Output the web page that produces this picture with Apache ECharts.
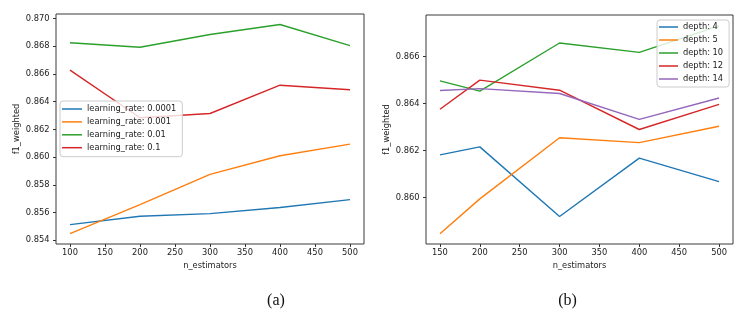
<!DOCTYPE html>
<html>
<head>
<meta charset="utf-8">
<script src="https://cdn.jsdelivr.net/npm/echarts@6/dist/echarts.min.js"></script>
<style>
html,body{margin:0;padding:0;background:#fff;}
#c{width:746px;height:313px;}
</style>
</head>
<body>
<div id="c"></div>
<script>
// Panel (a): learning rate sweep
const nEstA = [100, 200, 300, 400, 500];
const lrNames = ['learning_rate: 0.0001', 'learning_rate: 0.001', 'learning_rate: 0.01', 'learning_rate: 0.1'];
const lr00001 = [0.85513, 0.85573, 0.85592, 0.85636, 0.85693];
const lr0001  = [0.85448, 0.85657, 0.85876, 0.86010, 0.86094];
const lr001   = [0.86825, 0.86793, 0.86885, 0.86957, 0.86805];
const lr01    = [0.86628, 0.86284, 0.86315, 0.86519, 0.86486];
const xTicksA = [100, 150, 200, 250, 300, 350, 400, 450, 500];
const yTicksA = [0.854, 0.856, 0.858, 0.860, 0.862, 0.864, 0.866, 0.868, 0.870];

// Panel (b): depth sweep
const nEstB = [150, 200, 300, 400, 500];
const depthNames = ['depth: 4', 'depth: 5', 'depth: 10', 'depth: 12', 'depth: 14'];
const d4  = [0.86181, 0.86215, 0.85919, 0.86167, 0.86067];
const d5  = [0.85846, 0.85994, 0.86254, 0.86233, 0.86303];
const d10 = [0.86496, 0.86452, 0.86657, 0.86617, 0.86730];
const d12 = [0.86375, 0.86499, 0.86456, 0.86289, 0.86396];
const d14 = [0.86455, 0.86463, 0.86442, 0.86332, 0.86423];
const xTicksB = [150, 200, 250, 300, 350, 400, 450, 500];
const yTicksB = [0.860, 0.862, 0.864, 0.866];

const colors = ['#1f77b4', '#ff7f0e', '#2ca02c', '#d62728', '#9467bd'];
const FONT = 'DejaVu Sans';
const FS = 8.3;

function pairs(xs, ys) { return xs.map((x, i) => [x, ys[i]]); }

function xAxis(idx, min, max, ticks) {
  return {
    type: 'value', gridIndex: idx, min: min, max: max,
    name: 'n_estimators', nameLocation: 'middle', nameGap: 17,
    nameTextStyle: { fontFamily: FONT, fontSize: FS, color: '#222' },
    axisLine: { show: false },
    splitLine: { show: false },
    axisTick: { show: true, length: 3, customValues: ticks, lineStyle: { color: '#333', width: 1 } },
    axisLabel: { customValues: ticks, margin: 5, fontFamily: FONT, fontSize: FS, color: '#222' }
  };
}
function yAxis(idx, min, max, ticks) {
  return {
    type: 'value', gridIndex: idx, min: min, max: max,
    name: 'f1_weighted', nameLocation: 'middle', nameGap: 35, nameRotate: 90,
    nameTextStyle: { fontFamily: FONT, fontSize: FS, color: '#222' },
    axisLine: { show: false },
    splitLine: { show: false },
    axisTick: { show: true, length: 3, customValues: ticks, lineStyle: { color: '#333', width: 1 } },
    axisLabel: { customValues: ticks, margin: 6.5, fontFamily: FONT, fontSize: FS, color: '#222',
      formatter: v => v.toFixed(3) }
  };
}
function lineSeries(name, xs, ys, color, gi) {
  return {
    type: 'line', name: name, xAxisIndex: gi, yAxisIndex: gi,
    data: pairs(xs, ys), symbol: 'none', showSymbol: false, silent: true,
    lineStyle: { color: color, width: 1.4 }, itemStyle: { color: color },
    animation: false
  };
}

const seriesA = [lr00001, lr0001, lr001, lr01];
const seriesB = [d4, d5, d10, d12, d14];

const legendCommon = {
  orient: 'vertical', icon: 'rect', itemWidth: 20, itemHeight: 1.5, itemGap: 0.9,
  backgroundColor: 'rgba(255,255,255,0.8)', borderColor: '#cccccc', borderWidth: 1, borderRadius: 3,
  textStyle: { fontFamily: FONT, fontSize: FS, color: '#222', lineHeight: 12 },
  selectedMode: false, z: 10
};

const option = {
  animation: false,
  backgroundColor: '#fff',
  grid: [
    { left: 56, top: 14, width: 308, height: 230, show: true, borderColor: '#3a3a3a', borderWidth: 1, backgroundColor: 'transparent' },
    { left: 426, top: 15, width: 307, height: 229, show: true, borderColor: '#3a3a3a', borderWidth: 1, backgroundColor: 'transparent' }
  ],
  xAxis: [ xAxis(0, 80, 520, xTicksA), xAxis(1, 132.5, 517.5, xTicksB) ],
  yAxis: [ yAxis(0, 0.85373, 0.87033, yTicksA), yAxis(1, 0.85802, 0.86776, yTicksB) ],
  legend: [
    Object.assign({}, legendCommon, { left: 60, top: 101, padding: [2, 6, 3, 2], data: lrNames }),
    Object.assign({}, legendCommon, { left: 657, top: 20, padding: [1, 6, 2, 2], itemWidth: 19, itemGap: 1, data: depthNames })
  ],
  series: [
    ...seriesA.map((ys, i) => lineSeries(lrNames[i], nEstA, ys, colors[i], 0)),
    ...seriesB.map((ys, i) => lineSeries(depthNames[i], nEstB, ys, colors[i], 1))
  ],
  graphic: [
    { type: 'text', x: 276, y: 301, style: { text: '(a)', fontFamily: 'Liberation Serif', fontSize: 16, fill: '#111', textAlign: 'center', textVerticalAlign: 'middle' } },
    { type: 'text', x: 567.5, y: 301, style: { text: '(b)', fontFamily: 'Liberation Serif', fontSize: 16, fill: '#111', textAlign: 'center', textVerticalAlign: 'middle' } }
  ]
};

const chart = echarts.init(document.getElementById('c'), null, { renderer: 'canvas' });
chart.setOption(option);
</script>
</body>
</html>
